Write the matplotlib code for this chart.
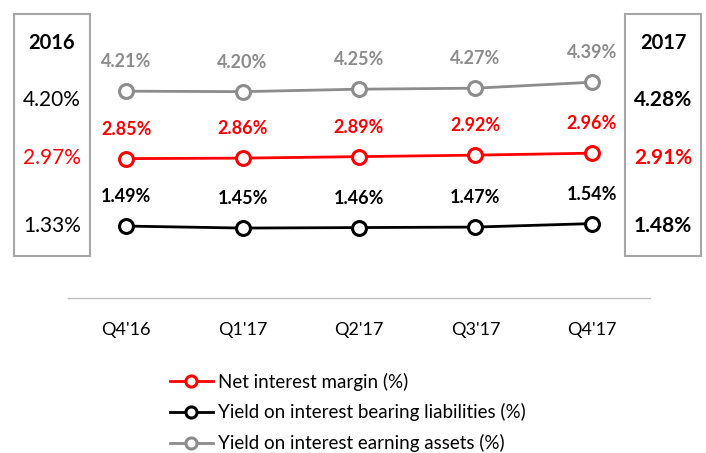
import matplotlib
matplotlib.use('Agg')
import matplotlib.pyplot as plt
from matplotlib.patches import Rectangle

plt.rcParams['font.family'] = ['Lato', 'DejaVu Sans']

quarters = ["Q4'16", "Q1'17", "Q2'17", "Q3'17", "Q4'17"]
nim = [2.85, 2.86, 2.89, 2.92, 2.96]
liab = [1.49, 1.45, 1.46, 1.47, 1.54]
assets = [4.21, 4.20, 4.25, 4.27, 4.39]

year_2016 = [4.20, 2.97, 1.33]
year_2017 = [4.28, 2.91, 1.48]

RED = '#FF0000'
GREY = '#8C8C8C'
BLACK = '#000000'

W, H = 706, 453
fig = plt.figure(figsize=(W / 100, H / 100), dpi=100)
ax = fig.add_axes([68 / W, (H - 298) / H, 582 / W, 288 / H])
x = list(range(len(quarters)))

series = [
    (nim, RED, 'Net interest margin (%)'),
    (liab, BLACK, 'Yield on interest bearing liabilities (%)'),
    (assets, GREY, 'Yield on interest earning assets (%)'),
]
for vals, col, lab in series:
    ax.plot(x, vals, color=col, lw=2, marker='o', ms=10, mfc='white',
            mec=col, mew=2.2, label=lab, zorder=3)
    for xi, v in zip(x, vals):
        ax.annotate(f'{v:.2f}%', (xi, v), xytext=(0, 15), textcoords='offset points',
                    ha='center', va='bottom', color=col, fontsize=13, fontweight='bold')

ax.set_xlim(-0.5, 4.5)
ax.set_ylim(0.04, 288 / 49.6 + 0.04)
ax.set_xticks(x)
ax.set_xticklabels(quarters, fontsize=13)
ax.tick_params(axis='x', length=0, pad=17)
ax.set_yticks([])
for s in ['top', 'left', 'right']:
    ax.spines[s].set_visible(False)
ax.spines['bottom'].set_color('#BFBFBF')
ax.spines['bottom'].set_linewidth(1)
ax.patch.set_alpha(0)

# side boxes
def side_box(x0, year, vals, bold):
    fig.patches.append(Rectangle((x0 / W, (H - 256) / H), 76 / W, 242 / H,
                                 transform=fig.transFigure, fill=False,
                                 edgecolor='#A6A6A6', lw=1.5))
    cx = (x0 + 38) / W
    fig.text(cx, 1 - 43 / H, year, ha='center', va='center', fontsize=14.5, fontweight='bold')
    cols = [BLACK, RED, BLACK]
    ys = [100, 158, 226]
    for v, c, yy in zip(vals, cols, ys):
        fig.text(cx, 1 - yy / H, f'{v:.2f}%', ha='center', va='center', fontsize=15,
                 color=c, fontweight='bold' if bold else 'normal')

side_box(14, '2016', year_2016, False)
side_box(625, '2017', year_2017, True)

fig.legend(loc='upper left', bbox_to_anchor=(162 / W, 1 - 365 / H), frameon=False,
           fontsize=13.5, handlelength=2.3, labelspacing=0.68, handletextpad=0.3,
           borderaxespad=0, markerscale=0.8)

fig.savefig('out.png', dpi=100)
